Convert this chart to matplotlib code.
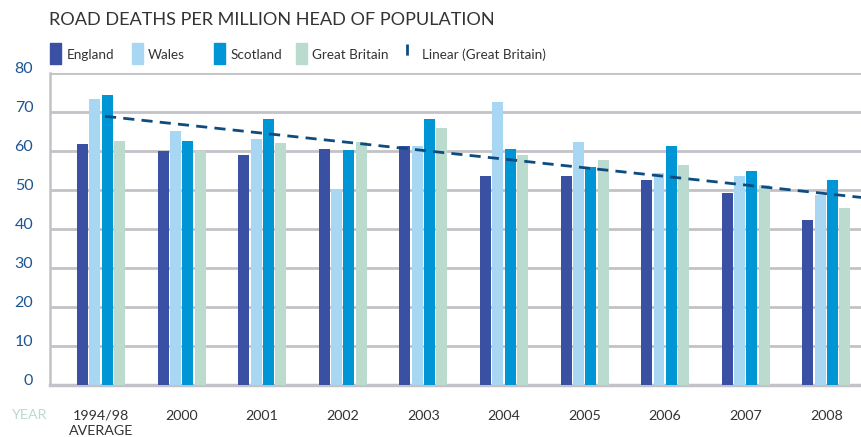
import numpy as np
import matplotlib
matplotlib.use("Agg")
import matplotlib.pyplot as plt
from matplotlib.patches import Rectangle
from matplotlib.lines import Line2D
from matplotlib.transforms import ScaledTranslation

plt.rcParams['font.family'] = ['Lato', 'DejaVu Sans']

categories = ["1994/98\nAVERAGE", "2000", "2001", "2002", "2003",
              "2004", "2005", "2006", "2007", "2008"]
england = [61.8, 60.0, 59.0, 60.5, 61.2, 53.6, 53.6, 52.5, 49.2, 42.2]
wales = [73.3, 65.0, 63.0, 50.3, 61.2, 72.6, 62.3, 54.3, 53.6, 48.7]
scotland = [74.3, 62.5, 68.3, 60.3, 68.3, 60.5, 55.8, 61.3, 54.8, 52.5]
great_britain = [62.6, 60.0, 62.0, 62.4, 66.0, 59.0, 57.6, 56.5, 51.3, 45.3]
trend_x = [0.05, 9.43]
trend_y = [68.9, 48.1]
series_names = ["England", "Wales", "Scotland", "Great Britain"]
yticks = [0, 10, 20, 30, 40, 50, 60, 70, 80]

colors = ["#3A51A3", "#A7D7F2", "#0095D4", "#BBDBCF"]
trend_color = "#0E4C80"
grid_color = "#C2C2C8"
tick_color = "#1D5592"
text_color = "#333333"

W, H = 861, 437
fig = plt.figure(figsize=(W / 100, H / 100), dpi=100)
ax = fig.add_axes([50 / W, 1 - 385 / H, 811 / W, 312 / H])

x = np.arange(len(categories))
pitch = 0.153
width = 0.136
for i, (vals, c) in enumerate(zip([england, wales, scotland, great_britain], colors)):
    ax.bar(x + (i - 1.5) * pitch, vals, width=width, color=c, zorder=3, linewidth=0)

ax.plot(trend_x, trend_y, linestyle=(0, (4, 2.6)), color=trend_color, lw=2.0, zorder=4)

ax.set_xlim(-0.633, 9.43)
ax.set_ylim(0, 80)
ax.set_yticks(yticks)
ax.yaxis.grid(True, color=grid_color, lw=2.0, zorder=0)
ax.set_axisbelow(True)
for s in ["top", "right"]:
    ax.spines[s].set_visible(False)
ax.spines["left"].set_color(grid_color)
ax.spines["left"].set_linewidth(1.8)
ax.spines["bottom"].set_color(grid_color)
ax.spines["bottom"].set_linewidth(2.5)
ax.tick_params(axis="y", length=0, pad=12, labelsize=11.5, labelcolor=tick_color)
shift = ScaledTranslation(0, 4 / 100, fig.dpi_scale_trans)
for lab in ax.get_yticklabels():
    lab.set_verticalalignment("center")
    lab.set_transform(lab.get_transform() + shift)
ax.set_xticks(x)
ax.set_xticklabels(categories, fontsize=10.3, color=text_color, linespacing=1.3, va="top")
ax.tick_params(axis="x", length=0, pad=18)

# title
fig.text(49 / W, 1 - 20 / H, "ROAD DEATHS PER MILLION HEAD OF POPULATION",
         fontsize=13.1, color="#333333", va="center", ha="left")

# YEAR label
fig.text(12 / W, 1 - 415 / H, "YEAR", fontsize=10.3, color="#BBDBCF", va="center", ha="left")

# legend
leg_y0, leg_h = 1 - 64 / H, 21 / H
leg_items = [(50, 67), (132, 148), (214, 231), (296, 312)]
for (px, tx), name, c in zip(leg_items, series_names, colors):
    fig.patches.append(Rectangle((px / W, leg_y0), 11 / W, leg_h, transform=fig.transFigure,
                                 color=c, figure=fig))
    fig.text(tx / W, 1 - 55 / H, name, fontsize=9.7, color=text_color, va="center", ha="left")
fig.lines.append(Line2D([407 / W, 407 / W], [1 - 44 / H, 1 - 63 / H], transform=fig.transFigure,
                        color=trend_color, lw=2.0, linestyle=(0, (4, 3)), figure=fig))
fig.text(422 / W, 1 - 55 / H, "Linear (Great Britain)", fontsize=9.7, color=text_color,
         va="center", ha="left")

fig.savefig("out.png", dpi=100)
